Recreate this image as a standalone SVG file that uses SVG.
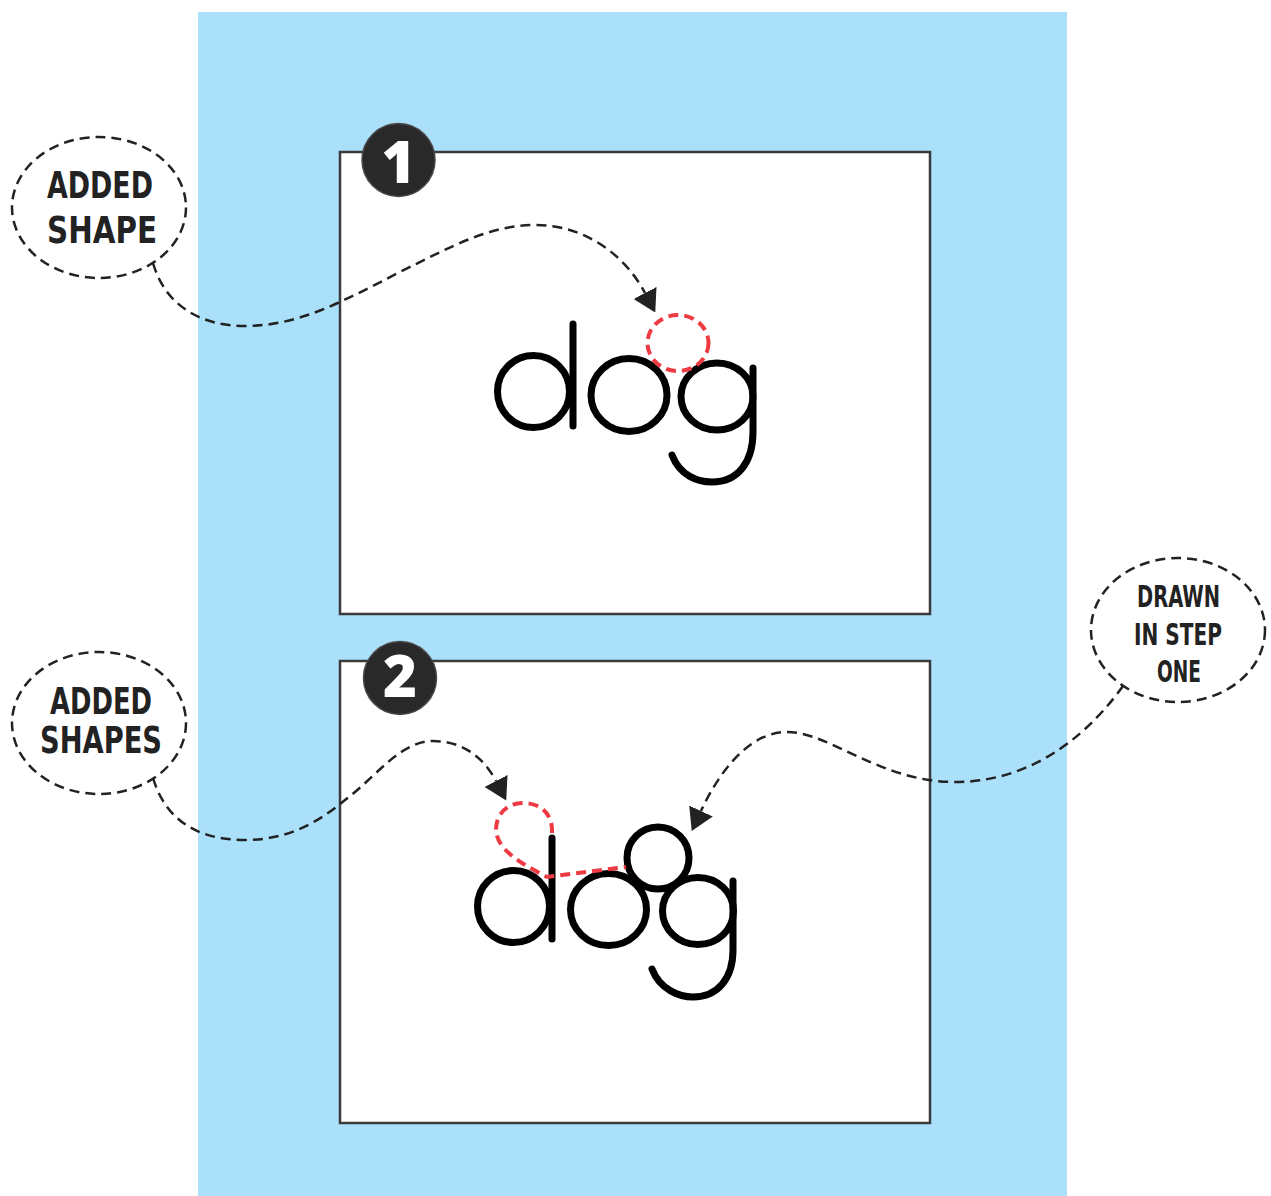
<svg xmlns="http://www.w3.org/2000/svg" width="1271" height="1196" viewBox="0 0 1271 1196">
  <style>
    .panel { fill: #ffffff; stroke: #3a3a3a; stroke-width: 2.5; }
    .badge { fill: #2a292a; stroke: #4a4748; stroke-width: 1.5; }
    .badgetxt { font-family: "Open Sans", "DejaVu Sans", sans-serif; font-weight: 800; font-size: 58px; fill: #ffffff; text-anchor: middle; }
    .bubble { fill: #ffffff; stroke: #222222; stroke-width: 2.5; stroke-dasharray: 10 6; }
    .note { font-family: "DejaVu Sans Condensed", "DejaVu Sans", sans-serif; font-weight: bold; fill: #222222; }
    .conn { fill: none; stroke: #222222; stroke-width: 2.5; stroke-dasharray: 10 6; }
    .ink { fill: none; stroke: #000000; stroke-width: 7; stroke-linecap: round; stroke-linejoin: round; }
    .added { fill: none; stroke: #ee3a43; stroke-width: 4; stroke-dasharray: 10 6; }
  </style>
  <defs>
    <marker id="arrow" markerUnits="userSpaceOnUse" viewBox="0 0 22 26" refX="0" refY="13" markerWidth="22" markerHeight="26" orient="auto">
      <path d="M0 0 L22 13 L0 26 Z" fill="#222222"/>
    </marker>
  </defs>

  <rect id="background" x="198" y="12" width="869" height="1184" fill="#abe0fb"/>

  <g id="panel1">
    <rect class="panel" x="340" y="152" width="590" height="462"/>
    <g id="dog1">
      <circle class="ink" cx="533.5" cy="391.5" r="36"/>
      <line class="ink" x1="573" y1="324" x2="573" y2="426"/>
      <ellipse class="ink" cx="629" cy="395" rx="38" ry="36.5"/>
      <ellipse class="ink" cx="717" cy="396.5" rx="36" ry="33.5"/>
      <path class="ink" d="M672 455 C680 476 698 482 712 482 C738 482 753 462 753 432 L753 368"/>
    </g>
    <ellipse id="added-shape-1" class="added" cx="678" cy="343" rx="30.5" ry="28"/>
  </g>

  <g id="badge1">
    <circle class="badge" cx="398.5" cy="160" r="36.5"/>
    <text class="badgetxt" x="398.5" y="183">1</text>
  </g>

  <g id="panel2">
    <rect class="panel" x="340" y="661" width="590" height="462"/>
    <g id="dog2">
      <circle class="ink" cx="513.5" cy="906.5" r="36"/>
      <line class="ink" x1="552" y1="838" x2="552" y2="939"/>
      <ellipse class="ink" cx="608.5" cy="909.5" rx="38" ry="36"/>
      <circle class="ink" cx="658" cy="858" r="31"/>
      <ellipse class="ink" cx="698" cy="911" rx="35.5" ry="33.5"/>
      <path class="ink" d="M652 969 C660 990 680 997 693 997 C718 997 733 978 733 950 L733 881"/>
    </g>
    <path id="added-shapes-2" class="added" d="M552 833 C553 813 540 803 523 803 C506 803 496 815 496 830 C497 849 518 862 547 877 L626 867"/>
  </g>

  <g id="badge2">
    <circle class="badge" cx="400" cy="678" r="36.5"/>
    <text class="badgetxt" x="400" y="697">2</text>
  </g>

  <g id="connectors">
    <path class="conn" marker-end="url(#arrow)" d="M153 263 C165 305 200 326 245 326 C300 326 345 300 400 272 C450 247 490 225 535 225 C585 225 625 255 645 293"/>
    <path class="conn" marker-end="url(#arrow)" d="M153 778 C165 818 195 840 245 840 C285 840 315 825 345 800 C375 778 400 741 433 741 C465 741 485 760 496 781"/>
    <path class="conn" marker-end="url(#arrow)" d="M1123 686 C1095 725 1040 782 955 782 C880 782 830 732 787 732 C750 732 720 770 701 811"/>
  </g>

  <g id="note-added-shape">
    <ellipse class="bubble" cx="99" cy="207.5" rx="87" ry="70.5"/>
    <text class="note" font-size="38" x="47" y="198" textLength="106" lengthAdjust="spacingAndGlyphs">ADDED</text>
    <text class="note" font-size="38" x="47" y="243" textLength="110" lengthAdjust="spacingAndGlyphs">SHAPE</text>
  </g>

  <g id="note-added-shapes">
    <ellipse class="bubble" cx="99" cy="723" rx="87" ry="71"/>
    <text class="note" font-size="37" x="50" y="714" textLength="102" lengthAdjust="spacingAndGlyphs">ADDED</text>
    <text class="note" font-size="37" x="40" y="753" textLength="122" lengthAdjust="spacingAndGlyphs">SHAPES</text>
  </g>

  <g id="note-drawn-step-one">
    <ellipse class="bubble" cx="1178" cy="630" rx="87" ry="72"/>
    <text class="note" font-size="30" x="1137" y="607" textLength="83" lengthAdjust="spacingAndGlyphs">DRAWN</text>
    <text class="note" font-size="30" x="1134" y="645" textLength="88" lengthAdjust="spacingAndGlyphs">IN STEP</text>
    <text class="note" font-size="30" x="1157" y="682" textLength="44" lengthAdjust="spacingAndGlyphs">ONE</text>
  </g>
</svg>
